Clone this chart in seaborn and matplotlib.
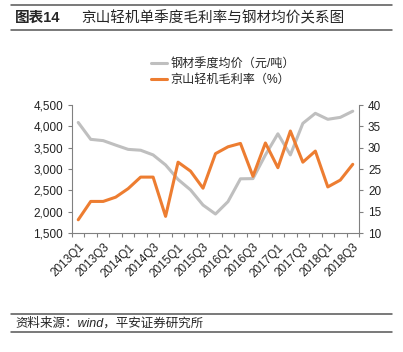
import numpy as np
import pandas as pd
import seaborn as sns
import matplotlib.pyplot as plt
from matplotlib.lines import Line2D

# quarters 2013Q1 .. 2018Q3
quarters = [f"{y}Q{q}" for y in range(2013, 2019) for q in range(1, 5)][:23]
steel_price = [4090, 3695, 3665, 3560, 3460, 3440, 3330, 3095, 2755, 2510, 2155, 1945,
               2235, 2770, 2775, 3330, 3825, 3330, 4070, 4305, 4165, 4210, 4355]
gross_margin = [13.1, 17.4, 17.4, 18.4, 20.4, 23.1, 23.1, 13.9, 26.6, 24.5, 20.5, 28.6,
                30.2, 31.0, 23.3, 31.1, 25.3, 33.9, 26.6, 29.2, 20.8, 22.4, 26.1]

steel_label = "钢材季度均价（元/吨）"
margin_label = "京山轻机毛利率（%）"
title_no = "图表14"
title = "京山轻机单季度毛利率与钢材均价关系图"
source = "资料来源：wind，平安证券研究所"

df = pd.DataFrame({"x": np.arange(len(quarters)), "steel": steel_price, "margin": gross_margin})

sns.set_style("white")
plt.rcParams["font.family"] = ["Liberation Sans", "Noto Sans CJK SC", "DejaVu Sans"]

gray = "#BFBFBF"
orange = "#ED7D31"
axis_col = "#808080"

fig = plt.figure(figsize=(4.03, 3.52), dpi=100)
ax = fig.add_axes([72 / 403, 1 - 233 / 352, 287 / 403, 128 / 352])
ax2 = ax.twinx()

sns.lineplot(data=df, x="x", y="steel", ax=ax, color=gray, lw=2.2, legend=False)
sns.lineplot(data=df, x="x", y="margin", ax=ax2, color=orange, lw=2.2, legend=False)

ax.set_xlim(-0.45, 22.5)
ax.set_ylim(1500, 4500)
ax2.set_ylim(10, 40)
ax.set_yticks(np.arange(1500, 4501, 500))
ax.set_yticklabels([f"{v:,}" for v in range(1500, 4501, 500)])
ax2.set_yticks(np.arange(10, 41, 5))

ax.set_xticks(np.arange(0, 23, 2))
ax.set_xticklabels(quarters[::2], rotation=45, ha="right", rotation_mode="anchor")
ax.set_xticks(np.arange(-0.5, 23, 1), minor=True)
ax.tick_params(axis="x", which="major", length=0, pad=6, labelsize=8.5, colors="#222222")
ax.tick_params(axis="x", which="minor", length=3, width=0.8, color=axis_col, bottom=True)
ax.tick_params(axis="y", length=3, width=0.8, color=axis_col, labelsize=8.5, labelcolor="#222222", left=True)
ax2.tick_params(axis="y", length=3, width=0.8, color=axis_col, labelsize=8.5, labelcolor="#222222", right=True)

for a in (ax, ax2):
    a.set_xlabel("")
    a.set_ylabel("")
    a.spines["top"].set_visible(False)
    for s in ("left", "right", "bottom"):
        a.spines[s].set_color(axis_col)
        a.spines[s].set_linewidth(0.8)
ax.spines["right"].set_visible(False)
ax2.spines["left"].set_visible(False)
ax2.spines["bottom"].set_visible(False)

handles = [Line2D([], [], color=gray, lw=2.2), Line2D([], [], color=orange, lw=2.2)]
fig.legend(handles, [steel_label, margin_label], loc="center left",
           bbox_to_anchor=(140 / 403, 1 - 72 / 352), frameon=False, fontsize=8.7,
           handlelength=1.3, handletextpad=0.3, labelspacing=0.35)

# header / footer
fig.text(15 / 403, 1 - 18 / 352, title_no, fontsize=10.5, fontweight="bold", va="center", ha="left")
fig.text(81 / 403, 1 - 18 / 352, title, fontsize=10.5, fontweight="medium", va="center", ha="left")
for y in (5, 30, 314, 332):
    fig.add_artist(Line2D([11 / 403, 392 / 403], [1 - y / 352] * 2, color="#555555", lw=1.1))
fig.text(15 / 403, 1 - 323 / 352, source, fontsize=9, style="italic", va="center", ha="left")

fig.savefig("out.png", dpi=100)
